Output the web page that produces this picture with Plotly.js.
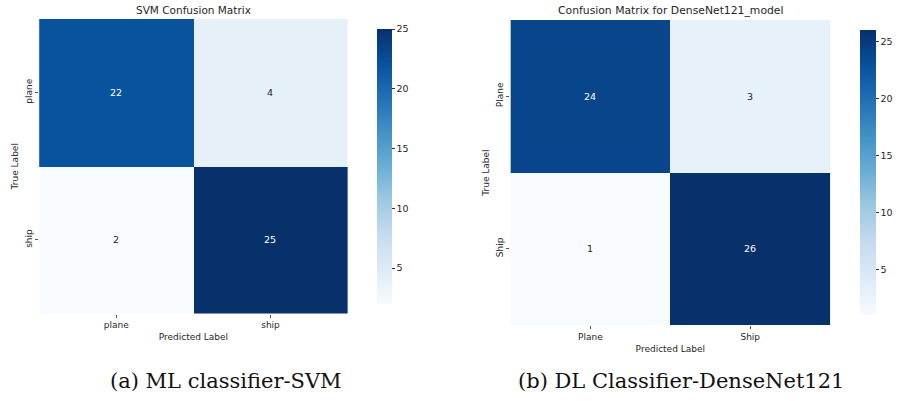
<!DOCTYPE html>
<html><head><meta charset="utf-8">
<script src="https://cdn.plot.ly/plotly-3.0.1.min.js"></script>
<style>html,body{margin:0;padding:0;background:#fff}</style>
</head><body><div id="chart" style="width:903px;height:401px"></div>
<script>
// Data
const svmLabels = ["plane", "ship"];
const svmMatrix = [[22, 4], [2, 25]];
const dnLabels = ["Plane", "Ship"];
const dnMatrix = [[24, 3], [1, 26]];
const titles = ["SVM Confusion Matrix", "Confusion Matrix for DenseNet121_model"];
const captions = ["(a) ML classifier-SVM", "(b) DL Classifier-DenseNet121"];

const W = 903, H = 401;
const blues = [
  [0, "#f7fbff"], [0.125, "#deebf7"], [0.25, "#c6dbef"], [0.375, "#9ecae1"],
  [0.5, "#6baed6"], [0.625, "#4292c6"], [0.75, "#2171b5"], [0.875, "#08519c"], [1, "#08306b"]
];
const px = v => v / W, py = v => 1 - v / H;

function zrange(m){ const f = m.flat(); return [Math.min(...f), Math.max(...f)]; }
const r1 = zrange(svmMatrix), r2 = zrange(dnMatrix);

const baseFont = {family: "DejaVu Sans", size: 9, color: "#262626"};

const traces = [
  {type: "heatmap", x: svmLabels, y: svmLabels, z: svmMatrix, xaxis: "x", yaxis: "y",
   colorscale: blues, zmin: r1[0], zmax: r1[1], hoverinfo: "skip",
   colorbar: {x: px(375), xanchor: "left", thickness: 15, thicknessmode: "pixels",
     len: 295, lenmode: "pixels", y: py(166.5), yanchor: "middle", outlinewidth: 0,
     ticks: "outside", ticklen: 3, tickcolor: "#333", tickvals: [5,10,15,20,25],
     tickfont: {family: "DejaVu Sans", size: 9.5, color: "#262626"}}},
  {type: "heatmap", x: dnLabels, y: dnLabels, z: dnMatrix, xaxis: "x2", yaxis: "y2",
   colorscale: blues, zmin: r2[0], zmax: r2[1], hoverinfo: "skip",
   colorbar: {x: px(869), xanchor: "left", thickness: 16, thicknessmode: "pixels",
     len: 305, lenmode: "pixels", y: py(172.5), yanchor: "middle", outlinewidth: 0,
     ticks: "outside", ticklen: 3, tickcolor: "#333", tickvals: [5,10,15,20,25],
     tickfont: {family: "DejaVu Sans", size: 9.5, color: "#262626"}}}
];

function axis(domain, anchor, title, isY, standoff){
  return {domain: domain, anchor: anchor, showgrid: false, zeroline: false, showline: false,
    ticks: "outside", ticklen: 3, tickcolor: "#555", tickfont: baseFont,
    tickangle: isY ? -90 : 0, autorange: isY ? "reversed" : true,
    title: {text: title, font: baseFont, standoff: standoff}};
}

const annotations = [];
function cellText(labels, m, xa, ya){
  const [lo, hi] = zrange(m);
  m.forEach((row, i) => row.forEach((v, j) => {
    const t = (v - lo) / (hi - lo);
    annotations.push({x: labels[j], y: labels[i], xref: xa, yref: ya, text: String(v),
      showarrow: false, font: {family: "DejaVu Sans", size: 9.5, color: t > 0.5 ? "#ffffff" : "#262626"}});
  }));
}
cellText(svmLabels, svmMatrix, "x", "y");
cellText(dnLabels, dnMatrix, "x2", "y2");

function paperText(text, x, y, font){
  annotations.push({text: text, x: px(x), y: py(y), xref: "paper", yref: "paper", showarrow: false,
    xanchor: "center", yanchor: "middle", font: font});
}
paperText(titles[0], 198, 10, {family: "DejaVu Sans", size: 10.5, color: "#262626"});
paperText(titles[1], 686, 11, {family: "DejaVu Sans", size: 10.8, color: "#262626"});
paperText(captions[0], 231, 381, {family: "DejaVu Serif", size: 21, color: "#111"});
paperText(captions[1], 696, 381, {family: "DejaVu Serif", size: 21, color: "#111"});

const layout = {
  width: W, height: H, margin: {l: 0, r: 0, t: 0, b: 0}, paper_bgcolor: "#fff", plot_bgcolor: "#fff",
  showlegend: false,
  xaxis: axis([px(40), px(355.5)], "y", "Predicted Label", false, 4),
  yaxis: axis([py(313.5), py(19)], "x", "True Label", true, 3),
  xaxis2: axis([px(522), px(849)], "y2", "Predicted Label", false, 4),
  yaxis2: axis([py(325), py(20)], "x2", "True Label", true, 3),
  annotations: annotations
};
Plotly.newPlot("chart", traces, layout, {staticPlot: true, displayModeBar: false});
</script></body></html>
